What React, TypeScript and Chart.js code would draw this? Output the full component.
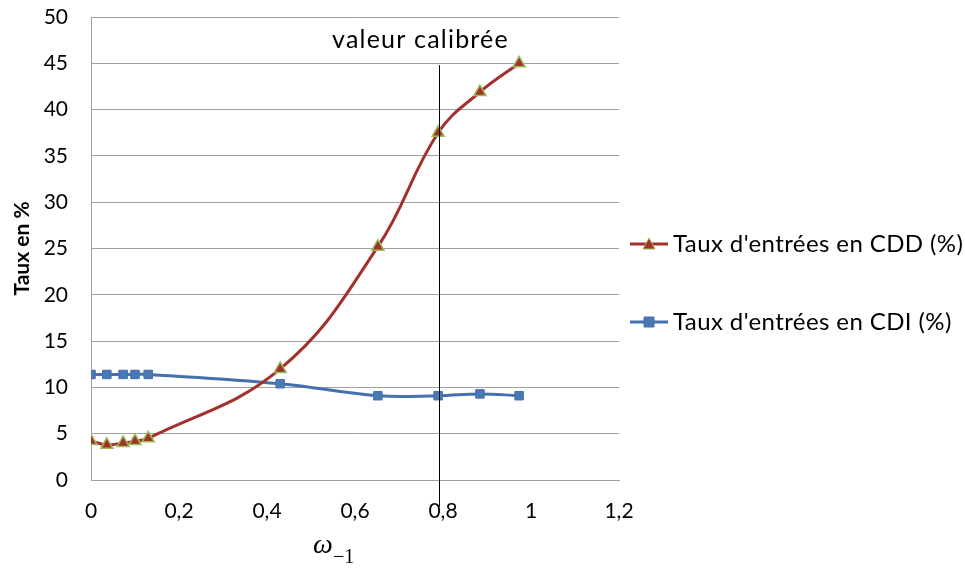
import React, { useEffect, useRef } from "react";
import { Chart, registerables } from "chart.js";

Chart.register(...registerables);

const omega: number[] = [0, 0.036, 0.073, 0.1, 0.13, 0.43, 0.652, 0.789, 0.884, 0.973];
const cddValues: number[] = [4.2, 3.8, 4.0, 4.2, 4.5, 12.0, 25.2, 37.5, 41.9, 45.0];
const cdiValues: number[] = [11.4, 11.4, 11.4, 11.4, 11.4, 10.4, 9.1, 9.1, 9.3, 9.1];
const cddLabel = "Taux d'entrées en CDD (%)";
const cdiLabel = "Taux d'entrées en CDI (%)";
const yTitle = "Taux en %";
const calibratedValue = 0.79;
const calibratedLabel = "valeur calibrée";
const xTicksMax = 1.2;
const yTicksMax = 50;

const RED = "#A3302C";
const RED_BORDER = "#9BBB59";
const BLUE = "#4470AE";
const BLUE_FILL = "#4A78B5";
const GRID = "#A0A0A0";
const FONT = "Lato, 'Open Sans', sans-serif";

const overlayPlugin = {
  id: "overlay",
  afterDatasetsDraw(chart: any) {
    const { ctx, scales, chartArea } = chart;
    const xs = scales.x;
    const ys = scales.y;
    const x = Math.round(xs.getPixelForValue(calibratedValue)) + 0.5;
    ctx.save();
    // calibrated line
    ctx.strokeStyle = "#000";
    ctx.lineWidth = 1;
    ctx.beginPath();
    ctx.moveTo(x, ys.getPixelForValue(44.8));
    ctx.lineTo(x, ys.getPixelForValue(-2.9));
    ctx.stroke();
    ctx.fillStyle = "#000";
    ctx.font = `25px ${FONT}`;
    (ctx as any).letterSpacing = "1.2px";
    ctx.textAlign = "center";
    ctx.textBaseline = "alphabetic";
    ctx.fillText(calibratedLabel, x - 19, chartArea.top + 31);
    (ctx as any).letterSpacing = "0px";

    // x axis title: omega with subscript
    const cx = (chartArea.left + chartArea.right) / 2;
    ctx.textAlign = "left";
    ctx.font = "italic 28px 'Liberation Serif', 'DejaVu Serif', serif";
    ctx.fillText("ω", cx - 42, 553);
    ctx.font = "20px 'Liberation Serif', 'DejaVu Serif', serif";
    ctx.fillText("−1", cx - 22, 563);

    // legend
    const items = [
      { label: cddLabel, color: RED, style: "triangle", fill: RED, border: RED_BORDER, y: 244 },
      { label: cdiLabel, color: BLUE, style: "rect", fill: BLUE_FILL, border: BLUE, y: 322 },
    ];
    const lx0 = 630;
    const lx1 = 668;
    items.forEach((it) => {
      ctx.strokeStyle = it.color;
      ctx.lineWidth = 3;
      ctx.beginPath();
      ctx.moveTo(lx0, it.y);
      ctx.lineTo(lx1, it.y);
      ctx.stroke();
      const mx = (lx0 + lx1) / 2;
      ctx.fillStyle = it.fill;
      ctx.strokeStyle = it.border;
      ctx.lineWidth = 1;
      ctx.beginPath();
      if (it.style === "triangle") {
        ctx.moveTo(mx, it.y - 6);
        ctx.lineTo(mx + 6, it.y + 5);
        ctx.lineTo(mx - 6, it.y + 5);
        ctx.closePath();
      } else {
        ctx.rect(mx - 5, it.y - 5, 10, 10);
      }
      ctx.fill();
      ctx.stroke();
      ctx.fillStyle = "#000";
      ctx.font = `24px ${FONT}`;
      (ctx as any).letterSpacing = "0.4px";
      ctx.textAlign = "left";
      ctx.textBaseline = "middle";
      ctx.fillText(it.label, 673, it.y);
      (ctx as any).letterSpacing = "0px";
    });
    ctx.restore();
  },
};

export default function App() {
  const canvasRef = useRef<HTMLCanvasElement | null>(null);

  useEffect(() => {
    document.body.style.margin = "0";
    const canvas = canvasRef.current;
    if (!canvas) return;
    const chart = new Chart(canvas, {
      type: "scatter",
      data: {
        datasets: [
          {
            label: cddLabel,
            data: omega.map((x, i) => ({ x, y: cddValues[i] })),
            showLine: true,
            borderColor: RED,
            borderWidth: 3,
            tension: 0.4,
            pointStyle: "triangle",
            pointRadius: 7,
            pointBackgroundColor: RED,
            pointBorderColor: RED_BORDER,
            pointBorderWidth: 1.5,
          },
          {
            label: cdiLabel,
            data: omega.map((x, i) => ({ x, y: cdiValues[i] })),
            showLine: true,
            borderColor: BLUE,
            borderWidth: 3,
            tension: 0.4,
            pointStyle: "rect",
            pointRadius: 6,
            pointBackgroundColor: BLUE_FILL,
            pointBorderColor: BLUE,
            pointBorderWidth: 1,
          },
        ],
      },
      options: {
        animation: false,
        responsive: false,
        layout: { padding: { top: 17, right: 346, left: 0, bottom: 0 } },
        plugins: { legend: { display: false }, tooltip: { enabled: false } },
        scales: {
          x: {
            type: "linear",
            min: 0,
            max: xTicksMax,
            ticks: {
              stepSize: 0.2,
              padding: 19,
              color: "#000",
              font: { family: FONT, size: 21 },
              callback: (v: any) => String(Math.round(Number(v) * 10) / 10).replace(".", ","),
            },
            grid: { display: false, drawTicks: false },
            border: { display: true, color: GRID, width: 1 },
            afterFit: (s: any) => {
              s.height = 90;
              s.paddingLeft = 0;
              s.paddingRight = 0;
            },
          },
          y: {
            min: 0,
            max: yTicksMax,
            ticks: {
              stepSize: 5,
              padding: 23,
              color: "#000",
              font: { family: FONT, size: 21 },
            },
            grid: { color: GRID, drawTicks: false, lineWidth: 1 },
            border: { display: true, color: GRID, width: 1 },
            title: {
              display: true,
              text: yTitle,
              color: "#000",
              font: { family: FONT, size: 21, weight: "bold" },
              padding: { top: 10, bottom: 0 },
            },
            afterFit: (s: any) => {
              s.width = 91;
              s.paddingTop = 0;
              s.paddingBottom = 0;
            },
          },
        },
      },
      plugins: [overlayPlugin],
    } as any);
    return () => chart.destroy();
  }, []);

  return (
    <div style={{ width: 965, height: 570, background: "#fff" }}>
      <canvas ref={canvasRef} width={965} height={570} style={{ display: "block" }} />
    </div>
  );
}
